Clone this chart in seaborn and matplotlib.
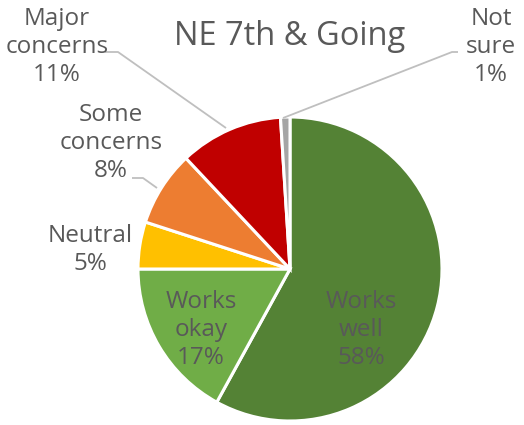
import matplotlib
matplotlib.use("Agg")
import matplotlib.pyplot as plt
import seaborn as sns

categories = ["Works well", "Works okay", "Neutral", "Some concerns", "Major concerns", "Not sure"]
values = [58, 17, 5, 8, 11, 1]
label_texts = ["Works\nwell\n58%", "Works\nokay\n17%", "Neutral\n5%",
               "Some\nconcerns\n8%", "Major\nconcerns\n11%", "Not\nsure\n1%"]
colors = ["#548235", "#70AD47", "#FFC000", "#ED7D31", "#C00000", "#A5A5A5"]
title = "NE 7th & Going"

sns.set_theme(style="white")
plt.rcParams["font.family"] = ["Open Sans", "DejaVu Sans"]

W, H = 524, 425
CX, CY, R = 290, 269, 152

def px(x, y):
    return ((x - CX) / R, (CY - y) / R)

fig = plt.figure(figsize=(W / 100, H / 100), dpi=100)
ax = fig.add_axes([0, 0, 1, 1])
ax.pie(values, colors=colors, startangle=90, counterclock=False, radius=1.0,
       wedgeprops=dict(edgecolor="white", linewidth=2.2), center=(0, 0))
ax.set_xlim(-CX / R, (W - CX) / R)
ax.set_ylim(-(H - CY) / R, CY / R)
ax.set_aspect("equal")
ax.axis("off")

txt = "#595959"
fs = 17.5
# label positions (pixel centres)
pos = {
    "Works well": (361, 330),
    "Works okay": (201, 330),
    "Neutral": (90, 250),
    "Some concerns": (111, 143),
    "Major concerns": (57, 47),
    "Not sure": (491, 47),
}
for cat, lab in zip(categories, label_texts):
    x, y = px(*pos[cat])
    ax.text(x, y, lab, ha="center", va="center", fontsize=fs, color=txt,
            linespacing=1.24)

lc = "#BFBFBF"
leaders = [
    [(105, 52), (118, 52), (226, 128)],
    [(458, 52), (452, 52), (283, 118)],
    [(132, 178), (143, 178), (157, 188)],
]
for pts in leaders:
    xs, ys = zip(*[px(*p) for p in pts])
    ax.plot(xs, ys, color=lc, linewidth=1.3, solid_capstyle="butt")

tx, ty = px(290, 37)
ax.text(tx, ty, title, ha="center", va="center", fontsize=23.5, color=txt)

fig.savefig("out.png", dpi=100)
